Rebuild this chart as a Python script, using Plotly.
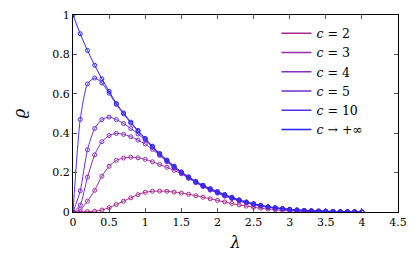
import plotly.graph_objects as go

lam = [round(0.1 * i, 1) for i in range(41)]

rho_inf = [1.0, 0.905, 0.82, 0.745, 0.676, 0.613, 0.551, 0.503, 0.456, 0.414,
           0.374, 0.334, 0.297, 0.264, 0.233, 0.204, 0.179, 0.156, 0.136, 0.119,
           0.104, 0.089, 0.075, 0.062, 0.051, 0.042, 0.034, 0.027, 0.022, 0.018,
           0.014, 0.011, 0.008, 0.006, 0.005, 0.004, 0.003, 0.002, 0.002, 0.001, 0.001]
rho_c10 = [0.0, 0.47, 0.65, 0.68, 0.655, 0.603, 0.546, 0.498, 0.451, 0.41,
           0.37, 0.331, 0.294, 0.261, 0.23, 0.201, 0.176, 0.153, 0.133, 0.116,
           0.101, 0.087, 0.073, 0.06, 0.05, 0.041, 0.033, 0.026, 0.021, 0.017,
           0.013, 0.01, 0.008, 0.006, 0.005, 0.004, 0.003, 0.002, 0.002, 0.001, 0.001]
rho_c5 = [0.0, 0.107, 0.316, 0.424, 0.469, 0.482, 0.469, 0.449, 0.424, 0.396,
          0.366, 0.328, 0.291, 0.258, 0.227, 0.199, 0.174, 0.151, 0.131, 0.113,
          0.098, 0.084, 0.071, 0.059, 0.048, 0.04, 0.032, 0.026, 0.02, 0.016,
          0.012, 0.009, 0.007, 0.005, 0.004, 0.003, 0.002, 0.002, 0.001, 0.001, 0.0]
rho_c4 = [0.0, 0.035, 0.177, 0.29, 0.357, 0.388, 0.399, 0.394, 0.382, 0.365,
          0.345, 0.318, 0.287, 0.255, 0.225, 0.197, 0.172, 0.149, 0.129, 0.111,
          0.096, 0.082, 0.07, 0.058, 0.047, 0.039, 0.031, 0.025, 0.02, 0.015,
          0.012, 0.009, 0.007, 0.005, 0.004, 0.003, 0.002, 0.001, 0.001, 0.001, 0.0]
rho_c3 = [0.0, 0.012, 0.055, 0.11, 0.182, 0.232, 0.262, 0.274, 0.278, 0.275,
          0.267, 0.255, 0.241, 0.227, 0.211, 0.194, 0.172, 0.152, 0.134, 0.116,
          0.097, 0.081, 0.068, 0.056, 0.046, 0.038, 0.03, 0.024, 0.019, 0.015,
          0.011, 0.008, 0.006, 0.005, 0.004, 0.003, 0.002, 0.001, 0.001, 0.001, 0.0]
rho_c2 = [0.0, 0.0, 0.002, 0.004, 0.01, 0.022, 0.038, 0.055, 0.072, 0.088,
          0.1, 0.105, 0.106, 0.105, 0.101, 0.096, 0.09, 0.083, 0.075, 0.067,
          0.059, 0.051, 0.043, 0.036, 0.03, 0.024, 0.019, 0.015, 0.011, 0.008,
          0.006, 0.004, 0.003, 0.002, 0.001, 0.001, 0.0, 0.0, 0.0, 0.0, 0.0]

series_names = ["<i>c</i> = 2", "<i>c</i> = 3", "<i>c</i> = 4", "<i>c</i> = 5",
                "<i>c</i> = 10", "<i>c</i> → +∞"]
series_values = [rho_c2, rho_c3, rho_c4, rho_c5, rho_c10, rho_inf]
colors = ["rgb(168,40,140)", "rgb(155,45,170)", "rgb(135,45,195)",
          "rgb(112,45,215)", "rgb(85,45,235)", "rgb(35,35,255)"]

x_ticks = [0, 0.5, 1, 1.5, 2, 2.5, 3, 3.5, 4, 4.5]
x_tick_labels = ["0", "0.5", "1", "1.5", "2", "2.5", "3", "3.5", "4", "4.5"]
y_ticks = [0, 0.2, 0.4, 0.6, 0.8, 1]
y_tick_labels = ["0", "0.2", "0.4", "0.6", "0.8", "1"]

fig = go.Figure()
for name, vals, col in zip(series_names, series_values, colors):
    fig.add_trace(go.Scatter(
        x=lam, y=vals, name=name, mode="lines+markers", showlegend=False,
        line=dict(color=col, width=1, shape="spline", smoothing=0.6),
        marker=dict(symbol="circle-open", size=4, color=col,
                    line=dict(width=1, color=col)),
    ))
for name, col in zip(series_names, colors):
    fig.add_trace(go.Scatter(
        x=[None], y=[None], name=name, mode="lines",
        line=dict(color=col, width=1.5),
    ))

font = "DejaVu Serif"
fig.update_layout(
    width=407, height=254,
    margin=dict(l=65, r=17, t=7, b=50, autoexpand=False),
    paper_bgcolor="white", plot_bgcolor="white",
    font=dict(family=font, size=11, color="black"),
    showlegend=True,
    legend=dict(x=0.626, y=0.982, xanchor="left", yanchor="top",
                bgcolor="rgba(0,0,0,0)", borderwidth=0,
                font=dict(family=font, size=12.5), tracegroupgap=0,
                itemwidth=30),
    xaxis=dict(range=[0, 4.5], tickvals=x_ticks, ticktext=x_tick_labels,
               showgrid=False, zeroline=False, showline=True, linecolor="black",
               linewidth=1, mirror="allticks", ticks="inside", ticklen=4,
               tickcolor="#555", automargin=False, ticklabeloverflow="allow",
               title=dict(text="<i>λ</i>", standoff=8, font=dict(size=16))),
    yaxis=dict(range=[0, 1], tickvals=y_ticks, ticktext=y_tick_labels,
               showgrid=False, zeroline=False, showline=True, linecolor="black",
               linewidth=1, mirror="allticks", ticks="inside", ticklen=4,
               tickcolor="#555", automargin=False, ticklabeloverflow="allow",
               title=dict(text="<i>ϱ</i>", standoff=22, font=dict(size=16))),
)
fig.write_html("out.html")
